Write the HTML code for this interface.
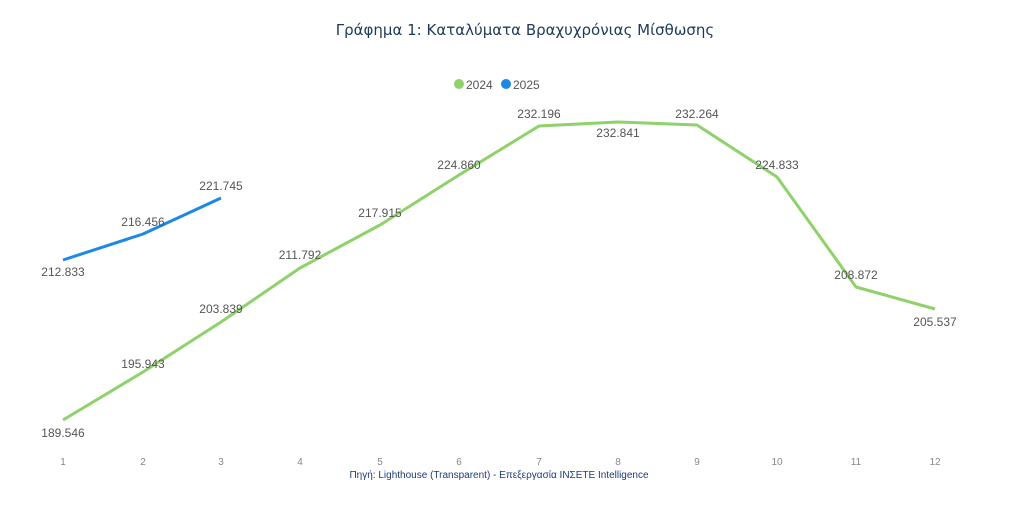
<!DOCTYPE html>
<html><head><meta charset="utf-8"><style>
html,body{margin:0;padding:0;background:#fff;}
svg text{font-family:"Liberation Sans",sans-serif;}
</style></head><body>
<svg width="1024" height="504" viewBox="0 0 1024 504" xmlns="http://www.w3.org/2000/svg">
<text x="525" y="35" text-anchor="middle" font-size="15" fill="#1f3a5a" font-family="DejaVu Sans, sans-serif" style="font-family:'DejaVu Sans',sans-serif">Γράφημα 1: Καταλύματα Βραχυχρόνιας Μίσθωσης</text>
<circle cx="459" cy="84" r="5" fill="#8fd16a"/>
<text x="466" y="89" font-size="12" fill="#555">2024</text>
<circle cx="506" cy="84" r="5" fill="#1e88e5"/>
<text x="513" y="89" font-size="12" fill="#555">2025</text>
<polyline fill="none" stroke="#8fd16a" stroke-width="3" stroke-linejoin="round" points="63,420 143,372 221,322 300,268 380,225 459,175 539,126 618,122 697,125 777,177 856,287 935,309"/>
<polyline fill="none" stroke="#1e88e5" stroke-width="3" stroke-linejoin="round" points="63,260 143,234 221,198"/>
<g font-size="12" fill="#555" text-anchor="middle">
<text x="63" y="437">189.546</text>
<text x="143" y="368">195.943</text>
<text x="221" y="313">203.839</text>
<text x="300" y="259">211.792</text>
<text x="380" y="217">217.915</text>
<text x="459" y="169">224.860</text>
<text x="539" y="118">232.196</text>
<text x="618" y="137">232.841</text>
<text x="697" y="118">232.264</text>
<text x="777" y="169">224.833</text>
<text x="856" y="279">208.872</text>
<text x="935" y="326">205.537</text>
<text x="63" y="276">212.833</text>
<text x="143" y="226">216.456</text>
<text x="221" y="190">221.745</text>
</g>
<g font-size="10" fill="#888" text-anchor="middle">
<text x="63" y="465">1</text><text x="143" y="465">2</text><text x="221" y="465">3</text><text x="300" y="465">4</text><text x="380" y="465">5</text><text x="459" y="465">6</text><text x="539" y="465">7</text><text x="618" y="465">8</text><text x="697" y="465">9</text><text x="777" y="465">10</text><text x="856" y="465">11</text><text x="935" y="465">12</text>
</g>
<text x="499" y="478" text-anchor="middle" font-size="10" fill="#1f3a7a">Πηγή: Lighthouse (Transparent) - Επεξεργασία ΙΝΣΕΤΕ Intelligence</text>
</svg>
</body></html>
